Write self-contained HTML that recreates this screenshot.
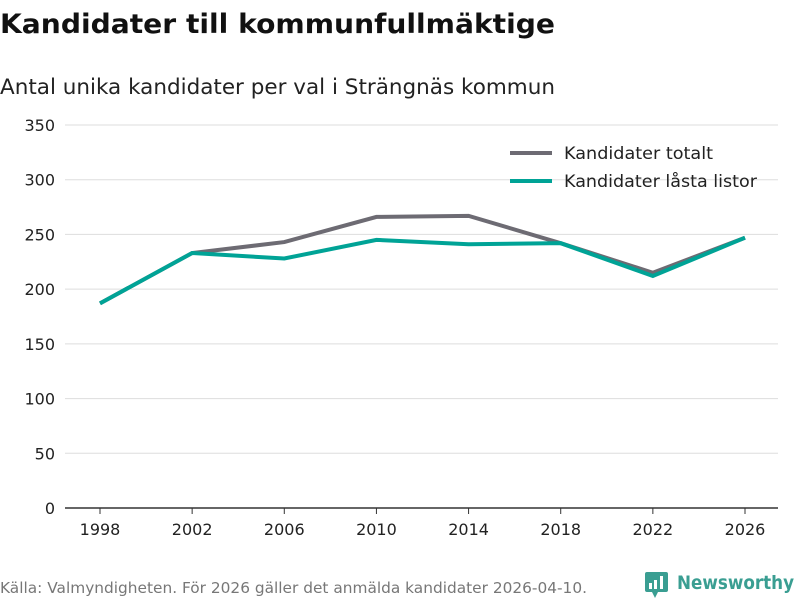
<!DOCTYPE html>
<html><head><meta charset="utf-8"><style>
body{margin:0;width:800px;height:600px;background:#fff;font-family:"DejaVu Sans","Liberation Sans",sans-serif;overflow:hidden}
</style></head><body>
<svg width="800" height="600">
<text x="0" y="33" font-size="27" font-weight="bold" fill="#111" textLength="555" lengthAdjust="spacingAndGlyphs">Kandidater till kommunfullmäktige</text>
<text x="0" y="94" font-size="21" fill="#222" textLength="555" lengthAdjust="spacingAndGlyphs">Antal unika kandidater per val i Strängnäs kommun</text>
<g id="grid"></g><g id="xax"></g><g id="lines"></g>
<g>
<line x1="510" y1="153" x2="552" y2="153" stroke="#6d6b73" stroke-width="4"/>
<text x="564" y="159" font-size="16.5" fill="#222" textLength="149" lengthAdjust="spacingAndGlyphs">Kandidater totalt</text>
<line x1="510" y1="181" x2="552" y2="181" stroke="#00a396" stroke-width="4"/>
<text x="564" y="187" font-size="16.5" fill="#222" textLength="193" lengthAdjust="spacingAndGlyphs">Kandidater låsta listor</text>
</g>
<text x="0" y="593" font-size="15" fill="#777" textLength="587" lengthAdjust="spacingAndGlyphs">Källa: Valmyndigheten. För 2026 gäller det anmälda kandidater 2026-04-10.</text>
<g>
<rect x="645" y="572" width="23" height="20" rx="2" fill="#3a9e92"/>
<polygon points="652,592 658,592 655,598" fill="#3a9e92"/>
<rect x="649" y="583" width="3" height="6" fill="#fff"/><rect x="654" y="580" width="3" height="9" fill="#fff"/><rect x="660" y="576" width="3" height="13" fill="#fff"/>
<text x="677" y="589" font-size="19" font-weight="bold" fill="#3a9e92" textLength="117" lengthAdjust="spacingAndGlyphs">Newsworthy</text>
</g>
</svg>
<script>
const years=[1998,2002,2006,2010,2014,2018,2022,2026];
const totalt=[187,233,243,266,267,242,215,247];
const lasta=[187,233,228,245,241,242,212,247];
const yTicks=[0,50,100,150,200,250,300,350];
const NS="http://www.w3.org/2000/svg";
const x=v=>100+(v-1998)*(645/28);
const y=v=>508-v*(383/350);
const grid=document.getElementById('grid');
yTicks.forEach(t=>{
 const l=document.createElementNS(NS,'line');
 l.setAttribute('x1',65);l.setAttribute('x2',778);l.setAttribute('y1',y(t));l.setAttribute('y2',y(t));
 l.setAttribute('stroke',t===0?'#333':'#ddd');l.setAttribute('stroke-width',t===0?1.5:1);
 
 
 grid.appendChild(l);
 const tx=document.createElementNS(NS,'text');
 tx.setAttribute('x',55);tx.setAttribute('y',y(t)+6);tx.setAttribute('text-anchor','end');
 tx.setAttribute('font-size','16');tx.setAttribute('fill','#222');tx.textContent=t;
 
 
 grid.appendChild(tx);
});
const xax=document.getElementById('xax');
years.forEach(yr=>{
 const l=document.createElementNS(NS,'line');
 l.setAttribute('x1',x(yr));l.setAttribute('x2',x(yr));l.setAttribute('y1',508);l.setAttribute('y2',514);l.setAttribute('stroke','#333');
 
 
 xax.appendChild(l);
 const tx=document.createElementNS(NS,'text');
 tx.setAttribute('x',x(yr));tx.setAttribute('y',535);tx.setAttribute('text-anchor','middle');
 tx.setAttribute('font-size','16');tx.setAttribute('fill','#222');tx.textContent=yr;
 
 
 xax.appendChild(tx);
});
const lines=document.getElementById('lines');
[[totalt,'#6d6b73','line-kandidater-totalt'],[lasta,'#00a396','line-kandidater-lasta']].forEach(([d,c,n])=>{
 const p=document.createElementNS(NS,'polyline');
 p.setAttribute('points',d.map((v,i)=>x(years[i])+','+y(v)).join(' '));
 p.setAttribute('fill','none');p.setAttribute('stroke',c);p.setAttribute('stroke-width',4);
 
 
 lines.appendChild(p);
});
</script>
</body></html>
